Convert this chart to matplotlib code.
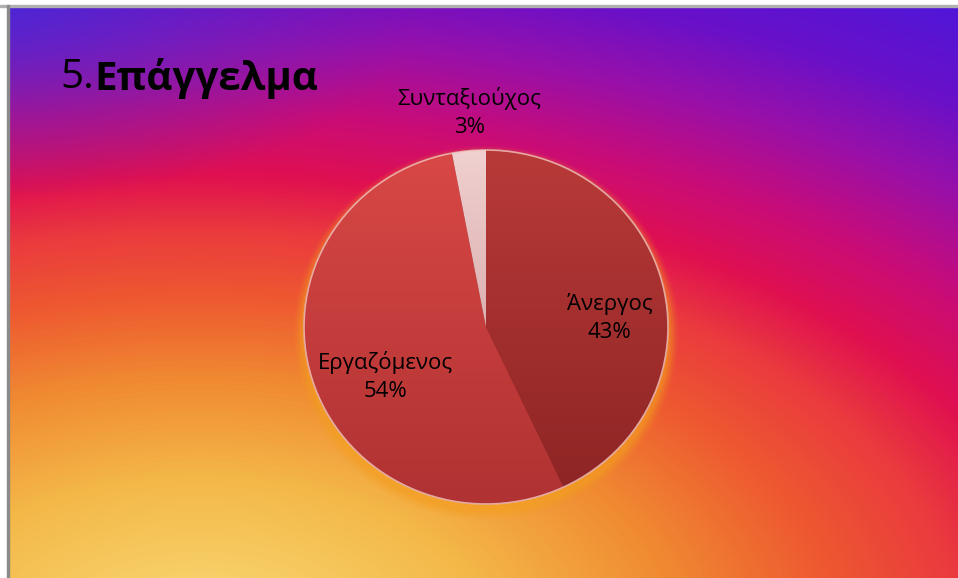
import numpy as np
import matplotlib.pyplot as plt
from matplotlib.colors import LinearSegmentedColormap, to_rgb
from matplotlib.patches import Rectangle

plt.rcParams["font.family"] = ["Open Sans", "DejaVu Sans"]

# data
categories = ["Άνεργος", "Εργαζόμενος", "Συνταξιούχος"]
shares = [43, 54, 3]

# styling
top_colors = ["#b83a38", "#d84846", "#f0d0d0"]
bottom_colors = ["#8c2424", "#b03232", "#c89090"]
label_pos = [(0.68, 0.05), (-0.55, -0.28), (-0.09, 1.21)]

W, H = 958, 578
fig = plt.figure(figsize=(W / 100, H / 100), dpi=100)

# background gradient (instagram-like), drawn in pixel space
bg = fig.add_axes([0, 0, 1, 1])
bg.set_axis_off()
yy, xx = np.mgrid[0:H, 0:W]
d = np.sqrt(((xx - 200) / 1.9) ** 2 + (yy - 630) ** 2)
stops = [
    (0.0, "#f8dc78"),
    (150 / 760, "#f4b848"),
    (250 / 760, "#f08a32"),
    (330 / 760, "#ee5a30"),
    (400 / 760, "#ea3a3e"),
    (455 / 760, "#e01050"),
    (520 / 760, "#c80c78"),
    (590 / 760, "#9a10a8"),
    (660 / 760, "#6a10c8"),
    (1.0, "#4a18dc"),
]
cmap = LinearSegmentedColormap.from_list("ig", stops)
img = cmap(np.clip(d / 760, 0, 1))[..., :3]
# bluish tint toward top-left corner
blue = np.array(to_rgb("#3830e0"))
t = np.clip(1 - np.sqrt((xx / 420.0) ** 2 + (yy / 200.0) ** 2), 0, 1)[..., None]
img = img * (1 - 0.7 * t) + blue * 0.7 * t
bg.imshow(img, extent=[0, W, H, 0], aspect="auto", zorder=0)
bg.set_xlim(0, W)
bg.set_ylim(H, 0)
# white margin and grey frame at top/left
bg.add_patch(Rectangle((0, 0), W, 5, color="white", zorder=2))
bg.add_patch(Rectangle((0, 0), 7, H, color="white", zorder=2))
bg.add_patch(Rectangle((0, 5), W, 2, color="#b0b0b0", zorder=3))
bg.add_patch(Rectangle((7, 5), 2, H, color="#8a8a8a", zorder=3))

# title
fig.text(60 / W, 1 - 78 / H, "5.", fontsize=29, va="center", ha="left", color="black")
fig.text(94 / W, 1 - 78 / H, "Επάγγελμα", fontsize=29, fontweight="bold",
         va="center", ha="left", color="black")

# pie
cx, cy, rx, ry = 486, 327, 182, 177
ax = fig.add_axes([(cx - rx) / W, (H - cy - ry) / H, 2 * rx / W, 2 * ry / H])
ax.patch.set_alpha(0)

wedges, _ = ax.pie(shares, startangle=90, counterclock=False, radius=1,
                   colors=top_colors,
                   wedgeprops=dict(edgecolor="#7a1a1a", linewidth=0.6))
ax.set_aspect("auto")
ax.set_axis_off()

# soft shadow under the pie
for k, a in enumerate(np.linspace(0.05, 0.25, 6)):
    sh = plt.Circle((0.0, -0.035), 1.0 + 0.01 * (6 - k), color="#f4a020", alpha=a,
                    lw=0, zorder=0, clip_on=False)
    ax.add_patch(sh)

grad_y = np.linspace(1, 0, 200)[:, None]
for w, c0, c1 in zip(wedges, top_colors, bottom_colors):
    c0 = np.array(to_rgb(c0))
    c1 = np.array(to_rgb(c1))
    g = grad_y[..., None] * c0 + (1 - grad_y[..., None]) * c1
    g = np.repeat(g, 10, axis=1)
    im = ax.imshow(g, extent=[-1, 1, -1, 1], aspect="auto", zorder=1.5)
    im.set_clip_path(w)
ax.set_xlim(-1, 1)
ax.set_ylim(-1, 1)

rim = plt.Circle((0, 0), 1.0, fill=False, ec="#f6c8c0", lw=1.2, alpha=0.8, zorder=3,
                 clip_on=False)
ax.add_patch(rim)

for name, val, (lx, ly) in zip(categories, shares, label_pos):
    ax.text(lx, ly, f"{name}\n{val}%", ha="center", va="center", fontsize=16,
            color="black", linespacing=1.45, zorder=5, clip_on=False)

fig.savefig("out.png", dpi=100)
